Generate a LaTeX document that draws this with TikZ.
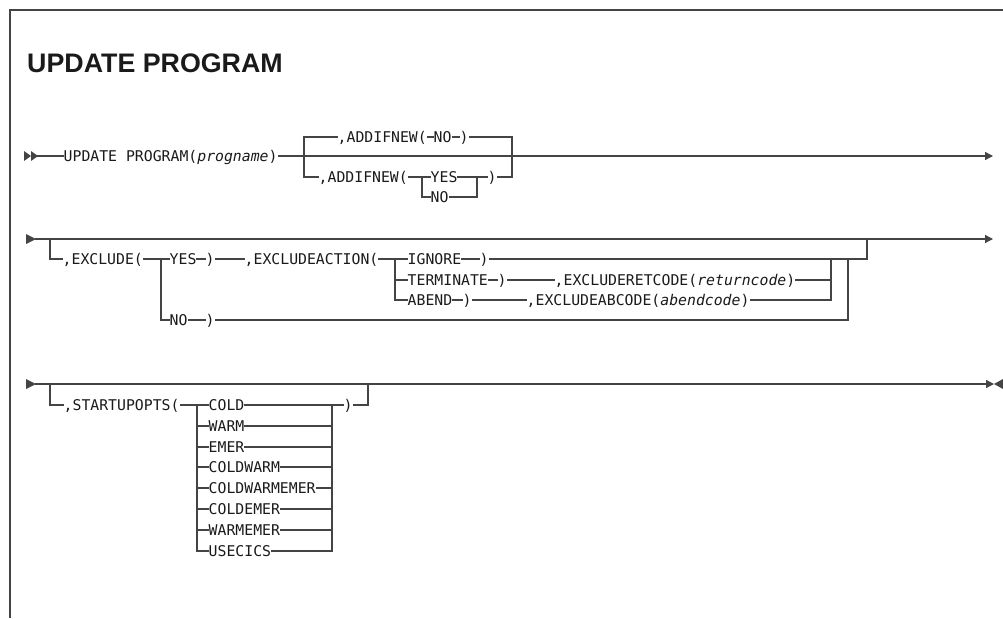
\documentclass[tikz,border=0pt]{standalone}
\usepackage{fontspec}
\setmainfont{Liberation Sans}
\setmonofont{DejaVu Sans Mono}
\usetikzlibrary{arrows.meta}
\definecolor{railgray}{HTML}{444444}
\definecolor{ink}{HTML}{1A1A1A}

\tikzset{
  tok/.style={font=\ttfamily\fontsize{14.8}{16}\selectfont, text=ink,
    inner xsep=0.5pt, inner ysep=0pt, text height=10.6pt, text depth=0pt,
    anchor=west},
  rail/.style={draw=railgray, line width=1.3pt, line cap=rect},
  endtip/.style={-{Triangle[length=8pt,width=8pt]}}
}

\begin{document}
\begin{tikzpicture}[x=1pt,y=-1pt]
  \useasboundingbox (0,0) rectangle (1003,618);
  % Frame and title
  \draw[railgray, line width=1.2pt] (1003,10) -- (10,10) -- (10,618);
  \node[anchor=base west, inner sep=0pt, text=ink,
    font=\bfseries\fontsize{26.8}{30}\selectfont] (title) at (27,73) {UPDATE PROGRAM};

  % Row 1: program name and ADDIFNEW
  \fill[railgray] (24,151) -- (31,156) -- (24,161) -- cycle;
  \fill[railgray] (31,151) -- (38,156) -- (31,161) -- cycle;
  \coordinate (s1) at (38,156);
  \coordinate (j1) at (304,156);
  \coordinate (j1t) at (304,137);
  \coordinate (j1b) at (304,177);
  \coordinate (k1t) at (512,137);
  \coordinate (k1b) at (512,177);
  \coordinate (e1) at (993,156);
  \node[tok] (upd) at (63,156) {UPDATE PROGRAM(\textit{progname})};
  \draw[rail] (s1) -- (upd) -- (j1);
  \draw[rail, endtip] (j1) -- (e1);
  \node[tok] (addA) at (337,137) {,ADDIFNEW(};
  \node[tok] (addAno) at (433,137) {NO};
  \node[tok] (addAcl) at (459,137) {)};
  \draw[rail] (addA) -- (j1t) -- (j1b);
  \draw[rail] (addA) -- (addAno) -- (addAcl) -- (k1t) -- (k1b);
  \coordinate (v1) at (422,177);
  \coordinate (v1b) at (422,197);
  \coordinate (w1) at (477,177);
  \coordinate (w1b) at (477,197);
  \node[tok] (addB) at (318,177) {,ADDIFNEW(};
  \node[tok] (addByes) at (430,177) {YES};
  \node[tok] (addBno) at (430,197) {NO};
  \node[tok] (addBcl) at (487,177) {)};
  \draw[rail] (j1b) -- (addB) -- (v1) -- (addByes) -- (w1) -- (addBcl) -- (k1b);
  \draw[rail] (v1) -- (v1b) -- (addBno) -- (w1b) -- (w1);

  % Row 2: EXCLUDE
  \fill[railgray] (26,234) -- (36,239) -- (26,244) -- cycle;
  \coordinate (s2) at (36,239);
  \coordinate (j2) at (50,239);
  \coordinate (j2b) at (50,259);
  \coordinate (k2) at (867,239);
  \coordinate (k2b) at (867,259);
  \coordinate (e2) at (993,239);
  \draw[rail, endtip] (s2) -- (e2);
  \coordinate (v2) at (161,259);
  \coordinate (v2b) at (161,320);
  \coordinate (v3) at (395,259);
  \coordinate (v3m) at (395,280);
  \coordinate (v3b) at (395,300);
  \node[tok] (excl) at (62,259) {,EXCLUDE(};
  \node[tok] (exyes) at (169,259) {YES};
  \node[tok] (exycl) at (205,259) {)};
  \node[tok] (exact) at (244,259) {,EXCLUDEACTION(};
  \node[tok] (ign) at (407,259) {IGNORE};
  \node[tok] (igncl) at (479,259) {)};
  \draw[rail] (j2) -- (j2b) -- (excl) -- (v2) -- (exyes) -- (exycl) -- (exact)
    -- (v3) -- (ign) -- (igncl) -- (k2b) -- (k2);
  \coordinate (m2) at (831,280);
  \coordinate (m2t) at (831,259);
  \coordinate (m2b) at (831,300);
  \node[tok] (term) at (407,280) {TERMINATE};
  \node[tok] (termcl) at (497,280) {)};
  \node[tok] (retc) at (554,280) {,EXCLUDERETCODE(\textit{returncode})};
  \draw[rail] (v3m) -- (term) -- (termcl) -- (retc) -- (m2);
  \node[tok] (abend) at (407,300) {ABEND};
  \node[tok] (abendcl) at (462,300) {)};
  \node[tok] (abc) at (526,300) {,EXCLUDEABCODE(\textit{abendcode})};
  \draw[rail] (v3) -- (v3b) -- (abend) -- (abendcl) -- (abc) -- (m2b) -- (m2t);
  \coordinate (n2) at (848,320);
  \coordinate (n2t) at (848,259);
  \node[tok] (exno) at (169,320) {NO};
  \node[tok] (exnocl) at (205,320) {)};
  \draw[rail] (v2) -- (v2b) -- (exno) -- (exnocl) -- (n2) -- (n2t);

  % Row 3: STARTUPOPTS
  \fill[railgray] (26,379) -- (36,384) -- (26,389) -- cycle;
  \coordinate (s3) at (36,384);
  \coordinate (j3) at (50,384);
  \coordinate (j3b) at (50,405);
  \coordinate (k3) at (368,384);
  \coordinate (k3b) at (368,405);
  \coordinate (e3) at (994,384);
  \draw[rail, endtip] (s3) -- (e3);
  \fill[railgray] (1003,379) -- (994,384) -- (1003,389) -- cycle;
  \node[tok] (sopt) at (63,405) {,STARTUPOPTS(};
  \node[tok] (soptcl) at (343,405) {)};
  \foreach \opt/\y [count=\i from 0] in
      {COLD/405,WARM/426,EMER/447,COLDWARM/467,COLDWARMEMER/488,
       COLDEMER/509,WARMEMER/530,USECICS/551} {
    \coordinate (optL\i) at (197,\y);
    \coordinate (optR\i) at (332,\y);
    \node[tok] (opt\i) at (208,\y) {\opt};
    \draw[rail] (optL\i) -- (opt\i) -- (optR\i);
  }
  \draw[rail] (optL0) -- (optL7);
  \draw[rail] (optR0) -- (optR7);
  \draw[rail] (j3) -- (j3b) -- (sopt) -- (optL0);
  \draw[rail] (optR0) -- (soptcl) -- (k3b) -- (k3);
\end{tikzpicture}
\end{document}
